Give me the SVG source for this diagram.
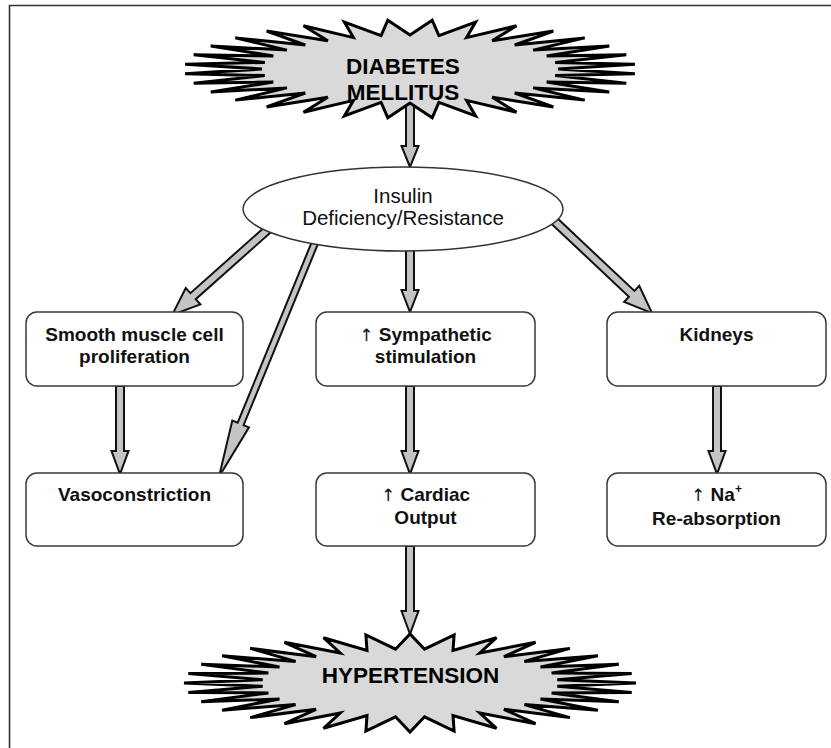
<svg xmlns="http://www.w3.org/2000/svg" width="831" height="748" viewBox="0 0 831 748">
<style>
.frame{fill:none;stroke:#333;stroke-width:1.6}
.box{fill:#fff;stroke:#3a3a3a;stroke-width:1.5}
.ell{fill:#fff;stroke:#333;stroke-width:1.5}
.arr{fill:#c4c4c4;stroke:#111;stroke-width:2;stroke-linejoin:miter}
.burst{fill:#d9d9d9;stroke:#000;stroke-width:3;stroke-linejoin:miter;stroke-miterlimit:4}
.t{font-family:"Liberation Sans",Arial,sans-serif;font-size:19px;font-weight:bold;text-anchor:middle;fill:#111}
.et{font-size:20.5px;font-weight:normal}
.bt{font-size:22.5px;font-weight:bold;fill:#000}
.up{font-family:"DejaVu Sans",sans-serif;font-weight:normal;font-size:17px}
</style>
<rect width="831" height="748" fill="#fff"/>
<path class="frame" d="M9.5,748V5.5H831"/>
<g id="connectors">
<polygon class="arr" points="406,100 414,100 414,146 418.5,146 410,167 401.5,146 406,146"/>
<polygon class="arr" points="406,245 414,245 414,290 418.5,290 410,312 401.5,290 406,290"/>
<polygon class="arr" points="406,386 414,386 414,451 418.5,451 410,474 401.5,451 406,451"/>
<polygon class="arr" points="406,546 414,546 414,611 418.5,611 410,634 401.5,611 406,611"/>
<polygon class="arr" points="116,386 124,386 124,451 128.5,451 120,474 111.5,451 116,451"/>
<polygon class="arr" points="713,386 721,386 721,451 725.5,451 717,474 708.5,451 713,451"/>
<path class="arr" transform="translate(268.5,229) rotate(138.3)" d="M0,-4H101V-11L129,0L101,11V4H0Z"/>
<path class="arr" transform="translate(315,242.6) rotate(112.3)" d="M0,-3.2H196V-9L253,0L196,9V3.2H0Z"/>
<path class="arr" transform="translate(548,215) rotate(43.3)" d="M0,-4H115V-11L143,0L115,11V4H0Z"/>
</g>
<g id="diabetes">
<polygon class="burst" transform="translate(410,69)" points="148,0 224.9,-4.8 145.2,-6.6 216.3,-14.2 136.7,-13 199.3,-23.1 123.1,-18.9 174.7,-31.1 104.7,-24 143.4,-37.9 82.2,-28.3 106.5,-43.2 56.6,-31.4 65.6,-46.9 28.9,-33.3 22.2,-48.8 0,-34 -22.2,-48.8 -28.9,-33.3 -65.6,-46.9 -56.6,-31.4 -106.5,-43.2 -82.2,-28.3 -143.4,-37.9 -104.7,-24 -174.7,-31.1 -123.1,-18.9 -199.3,-23.1 -136.7,-13 -216.3,-14.2 -145.2,-6.6 -224.9,-4.8 -148,0 -224.9,4.8 -145.2,6.6 -216.3,14.2 -136.7,13 -199.3,23.1 -123.1,18.9 -174.7,31.1 -104.7,24 -143.4,37.9 -82.2,28.3 -106.5,43.2 -56.6,31.4 -65.6,46.9 -28.9,33.3 -22.2,48.8 0,34 22.2,48.8 28.9,33.3 65.6,46.9 56.6,31.4 106.5,43.2 82.2,28.3 143.4,37.9 104.7,24 174.7,31.1 123.1,18.9 199.3,23.1 136.7,13 216.3,14.2 145.2,6.6 224.9,4.8"/>
<text class="t bt" x="403" y="74">DIABETES</text>
<text class="t bt" x="403" y="100">MELLITUS</text>
</g>
<g id="insulin">
<ellipse class="ell" cx="403" cy="209" rx="160" ry="42"/>
<text class="t et" x="403" y="203">Insulin</text>
<text class="t et" x="403" y="225">Deficiency/Resistance</text>
</g>
<g id="smooth">
<rect class="box" x="26" y="312" width="217" height="74" rx="11"/>
<text class="t" x="134.5" y="341">Smooth muscle cell</text>
<text class="t" x="134.5" y="363">proliferation</text>
</g>
<g id="vaso">
<rect class="box" x="26" y="473" width="217" height="73" rx="11"/>
<text class="t" x="134.5" y="501">Vasoconstriction</text>
</g>
<g id="symp">
<rect class="box" x="316" y="312" width="219" height="74" rx="11"/>
<text class="t" x="425.5" y="341"><tspan class="up">↑</tspan> Sympathetic</text>
<text class="t" x="425.5" y="363">stimulation</text>
</g>
<g id="cardiac">
<rect class="box" x="316" y="473" width="219" height="73" rx="11"/>
<text class="t" x="425.5" y="501"><tspan class="up">↑</tspan> Cardiac</text>
<text class="t" x="425.5" y="524">Output</text>
</g>
<g id="kidneys">
<rect class="box" x="607" y="312" width="219" height="74" rx="11"/>
<text class="t" x="716.5" y="341">Kidneys</text>
</g>
<g id="sodium">
<rect class="box" x="607" y="473" width="219" height="73" rx="11"/>
<text class="t" x="716.5" y="501"><tspan class="up">↑</tspan> Na<tspan font-size="12" dy="-8">+</tspan></text>
<text class="t" x="716.5" y="525">Re-absorption</text>
</g>
<g id="hypertension">
<polygon class="burst" transform="translate(410,683)" points="226,0 147.3,-3.3 221.7,-9.6 141.6,-9.9 208.8,-18.8 130.5,-16 187.9,-27.2 114.4,-21.6 159.8,-34.6 93.9,-26.3 125.6,-40.7 69.8,-30 86.5,-45.3 43,-32.5 44.1,-48.1 14.5,-33.8 0,-49 -14.5,-33.8 -44.1,-48.1 -43,-32.5 -86.5,-45.3 -69.8,-30 -125.6,-40.7 -93.9,-26.3 -159.8,-34.6 -114.4,-21.6 -187.9,-27.2 -130.5,-16 -208.8,-18.8 -141.6,-9.9 -221.7,-9.6 -147.3,-3.3 -226,0 -147.3,3.3 -221.7,9.6 -141.6,9.9 -208.8,18.8 -130.5,16 -187.9,27.2 -114.4,21.6 -159.8,34.6 -93.9,26.3 -125.6,40.7 -69.8,30 -86.5,45.3 -43,32.5 -44.1,48.1 -14.5,33.8 0,49 14.5,33.8 44.1,48.1 43,32.5 86.5,45.3 69.8,30 125.6,40.7 93.9,26.3 159.8,34.6 114.4,21.6 187.9,27.2 130.5,16 208.8,18.8 141.6,9.9 221.7,9.6 147.3,3.3"/>
<text class="t bt" x="410.5" y="683">HYPERTENSION</text>
</g>
</svg>
